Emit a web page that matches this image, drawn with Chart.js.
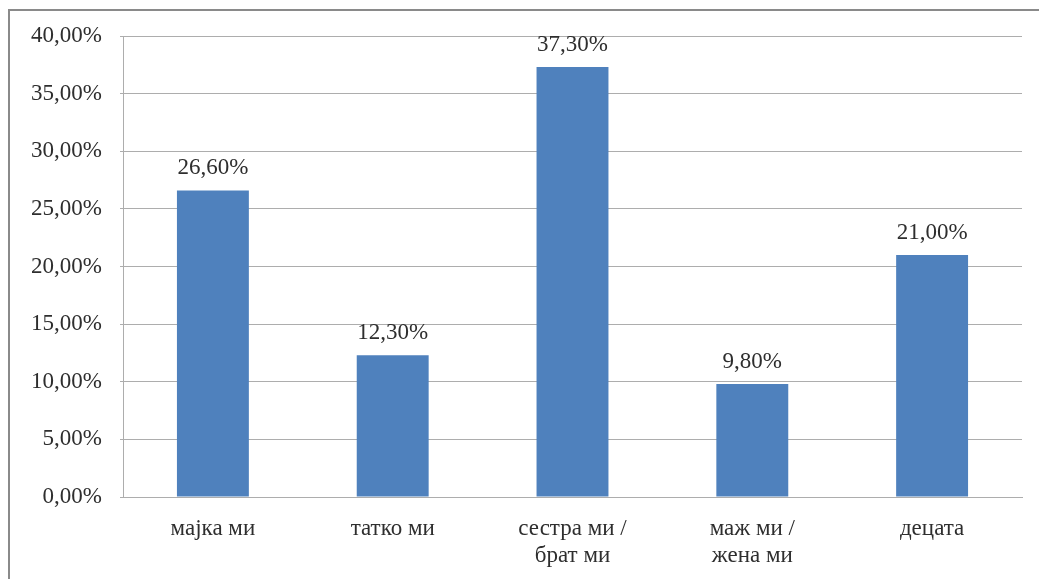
<!DOCTYPE html>
<html>
<head>
<meta charset="utf-8">
<script src="https://cdn.jsdelivr.net/npm/chart.js@4/dist/chart.umd.min.js"></script>
<style>
  html, body { margin: 0; padding: 0; background: #fff; }
  #wrap { position: relative; width: 1039px; height: 579px; overflow: hidden; }
  #frame { position: absolute; left: 8px; top: 9px; width: 1100px; height: 700px;
           border-left: 2px solid #8a8a8a; border-top: 2px solid #8a8a8a; box-sizing: border-box; }
  canvas { position: absolute; left: 0; top: 0; }
</style>
</head>
<body>
<div id="wrap">
  <div id="frame"></div>
  <canvas id="c" width="1039" height="579"></canvas>
</div>
<script>
// Categories (multi-line labels as arrays)
const categories = [
  'мајка ми',
  'татко ми',
  ['сестра ми /', 'брат ми'],
  ['маж ми /', 'жена ми'],
  'децата'
];
// Share of respondents, in percent
const shares = [26.6, 12.3, 37.3, 9.8, 21.0];
// Y axis range
const yMin = 0, yMax = 40, yStep = 5;

const serif = '"Liberation Serif", "Times New Roman", serif';
const textColor = '#2e2e2e';
const fmt = v => v.toFixed(2).replace('.', ',') + '%';

// Writes the value above each bar
const valueLabels = {
  id: 'valueLabels',
  afterDatasetsDraw(chart) {
    const ctx = chart.ctx;
    const meta = chart.getDatasetMeta(0);
    ctx.save();
    ctx.font = '23px ' + serif;
    ctx.fillStyle = textColor;
    ctx.textAlign = 'center';
    ctx.textBaseline = 'alphabetic';
    meta.data.forEach((bar, i) => {
      ctx.fillText(fmt(shares[i]), bar.x, bar.y - 16);
    });
    ctx.restore();
  }
};

new Chart(document.getElementById('c'), {
  type: 'bar',
  data: {
    labels: categories,
    datasets: [{
      data: shares,
      backgroundColor: '#4f81bd',
      borderWidth: 0,
      categoryPercentage: 1.0,
      barPercentage: 0.4
    }]
  },
  options: {
    responsive: false,
    animation: false,
    layout: { padding: { left: 0, right: 17, top: 36, bottom: 0 } },
    plugins: { legend: { display: false }, tooltip: { enabled: false } },
    scales: {
      x: {
        grid: { display: false },
        border: { display: true, color: '#adadad', width: 1 },
        ticks: {
          color: textColor,
          font: { family: serif, size: 23, lineHeight: 1.15 },
          padding: 11,
          maxRotation: 0,
          autoSkip: false
        },
        afterFit(scale) { scale.height = 82; }
      },
      y: {
        min: yMin,
        max: yMax,
        grid: { color: '#adadad', lineWidth: 1, drawTicks: true, tickLength: 3 },
        border: { display: true, color: '#adadad', width: 1 },
        ticks: {
          stepSize: yStep,
          color: textColor,
          font: { family: serif, size: 23 },
          padding: 18,
          callback: v => fmt(v)
        },
        afterFit(scale) { scale.width = 123; }
      }
    }
  },
  plugins: [valueLabels]
});
</script>
</body>
</html>
